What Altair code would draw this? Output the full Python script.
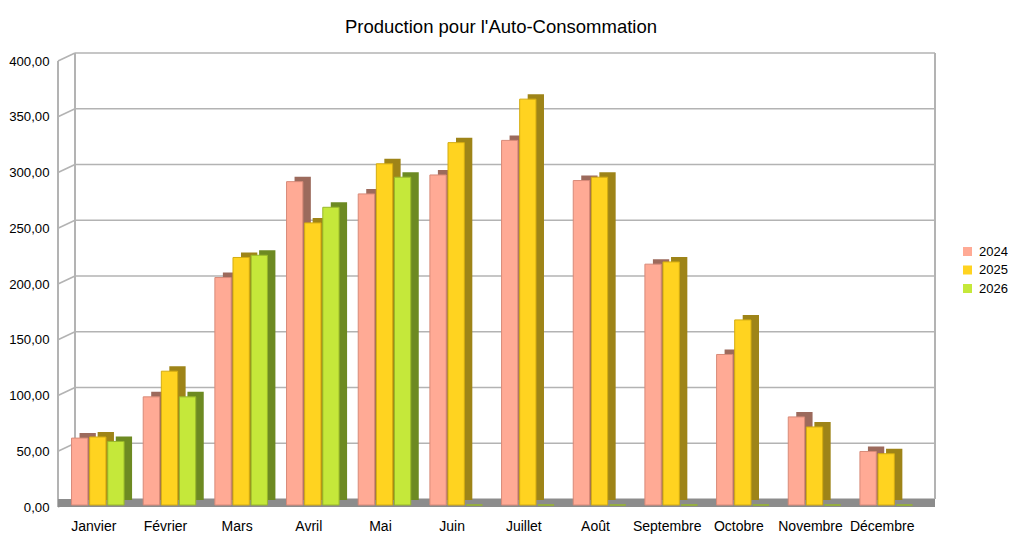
import altair as alt
import pandas as pd

months = ["Janvier", "Février", "Mars", "Avril", "Mai", "Juin", "Juillet",
          "Août", "Septembre", "Octobre", "Novembre", "Décembre"]
years = ["2024", "2025", "2026"]
v2024 = [60, 97, 204, 290, 279, 296, 327, 291, 216, 135, 79, 48]
v2025 = [61, 120, 222, 253, 306, 325, 364, 294, 218, 166, 70, 46]
v2026 = [57, 97, 224, 267, 294, 0, 0, 0, 0, 0, 0, 0]
tick_values = [0, 50, 100, 150, 200, 250, 300, 350, 400]

front_colors = ["#ffaa95", "#ffd320", "#c5e83a"]
side_colors = ["#9c6a5c", "#9e8418", "#6d8a22"]
edge_colors = ["#d88a78", "#d4ac10", "#98b82a"]

rows = []
for y, vals in zip(years, [v2024, v2025, v2026]):
    for m, v in zip(months, vals):
        rows.append({"mois": m, "annee": y, "valeur": v})
df = pd.DataFrame(rows)
ticks_df = pd.DataFrame({"t": tick_values})

FONT = "Liberation Sans"
GRID = "#b3b3b3"
W, H = 860, 446
yscale = alt.Scale(domain=[0, 400], nice=False, zero=True)
xoff_scale = alt.Scale(domain=years, paddingInner=0.1, paddingOuter=0)

# back wall grid lines
back_grid = alt.Chart(ticks_df).mark_rule(
    color=GRID, strokeWidth=1.6, yOffset=-6, y2Offset=-6
).encode(
    x=alt.value(17), x2=alt.value(877),
    y=alt.Y("t:Q", scale=yscale, axis=alt.Axis(
        values=tick_values, title=None, domain=False, ticks=False, grid=False,
        labelFont=FONT, labelFontSize=13.2, labelColor="#000000",
        labelPadding=9, labelOffset=2,
        labelExpr="replace(format(datum.value, '.2f'), '.', ',')")),
    y2=alt.Y2("t:Q"),
)

back_left = alt.Chart(ticks_df).mark_rule(
    color=GRID, strokeWidth=1.6, yOffset=-6, y2Offset=-6
).encode(x=alt.value(17), y=alt.datum(400), y2=alt.datum(0))

back_right = alt.Chart(ticks_df).mark_rule(
    color=GRID, strokeWidth=1.6, yOffset=-6, y2Offset=-6
).encode(x=alt.value(877), y=alt.datum(400), y2=alt.datum(0))

diagonals = alt.Chart(ticks_df).mark_rule(
    color=GRID, strokeWidth=1.6, yOffset=2, y2Offset=-6
).encode(x=alt.value(0), x2=alt.value(17), y="t:Q", y2="t:Q")

front_left = alt.Chart(ticks_df).mark_rule(
    color=GRID, strokeWidth=1.6, yOffset=2, y2Offset=2
).encode(x=alt.value(0), y=alt.datum(400), y2=alt.datum(0))

floor = alt.Chart(ticks_df).mark_rule(
    color="#8c8c8c", strokeWidth=7, yOffset=-2, y2Offset=-2, strokeCap="butt"
).encode(x=alt.value(0), x2=alt.value(877), y=alt.datum(0), y2=alt.datum(0))

side = alt.Chart(df).mark_bar(yOffset=-5, y2Offset=-5).encode(
    x=alt.X("mois:N", sort=months, title=None, axis=None,
            scale=alt.Scale(domain=months, paddingInner=0.267,
                            paddingOuter=0.133, range=[12, W + 12])),
    xOffset=alt.XOffset("annee:N", scale=xoff_scale),
    y=alt.Y("valeur:Q", scale=yscale),
    color=alt.Color("annee:N", scale=alt.Scale(domain=years, range=side_colors),
                    legend=None),
)

front = alt.Chart(df).mark_bar(strokeWidth=1).encode(
    x=alt.X("mois:N", sort=months, title=None,
            scale=alt.Scale(domain=months, paddingInner=0.267,
                            paddingOuter=0.133, range=[4, W + 4]),
            axis=alt.Axis(domain=False, ticks=False, labelAngle=0,
                          labelOffset=-4, labelFont=FONT, labelFontSize=14,
                          labelColor="#000000", labelPadding=14)),
    xOffset=alt.XOffset("annee:N", scale=xoff_scale),
    y=alt.Y("valeur:Q", scale=yscale),
    color=alt.Color("annee:N", scale=alt.Scale(domain=years, range=front_colors),
                    legend=alt.Legend(title=None, orient="none", legendX=903,
                                      legendY=186, symbolType="square",
                                      symbolSize=81, symbolStrokeWidth=0,
                                      labelFont=FONT, labelFontSize=13,
                                      labelColor="#000000", rowPadding=4.5,
                                      labelOffset=5)),
    stroke=alt.Stroke("annee:N", scale=alt.Scale(domain=years, range=edge_colors),
                      legend=None),
)

chart = alt.layer(
    back_grid, back_left, back_right, diagonals, front_left, floor, side, front
).resolve_scale(color="independent", x="independent").properties(
    width=W, height=H,
    autosize="none",
    padding={"left": 50, "top": 51, "right": 90, "bottom": 30},
    title=alt.TitleParams("Production pour l'Auto-Consommation", font=FONT,
                          fontSize=18.5, fontWeight="normal", color="#000000",
                          offset=16, dx=13),
).configure_view(stroke=None)

chart.save("out.html", embed_options={"renderer": "svg", "actions": False})
